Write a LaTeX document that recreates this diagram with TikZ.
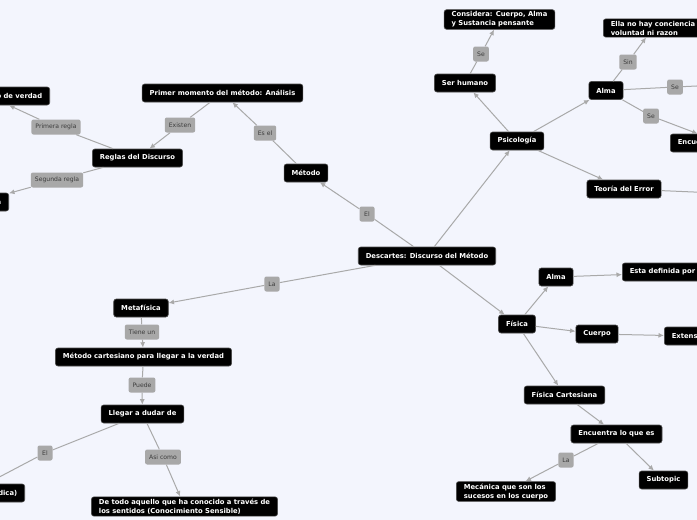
\documentclass[tikz,border=0pt]{standalone}
\usepackage{fontspec}
\setmainfont{DejaVu Sans}
\usetikzlibrary{arrows.meta}
\definecolor{bg}{HTML}{F3F5FD}
\definecolor{edgec}{HTML}{A9A9A9}
\definecolor{lblfill}{HTML}{A8A8A8}
\definecolor{lbltext}{HTML}{3C3C3C}
\tikzset{
  topic/.style={fill=black, draw=black!70, line width=0.6pt, rounded corners=2.5pt,
    text=white, font=\fontsize{6.8}{9}\selectfont\bfseries, inner xsep=7.5pt, inner ysep=2pt,
    minimum height=18pt, align=left},
  lbl/.style={fill=lblfill, rounded corners=2pt, text=lbltext,
    font=\fontsize{6.1}{7}\selectfont, inner xsep=4pt, inner ysep=1pt,
    minimum height=15pt, minimum width=15pt},
  edge/.style={draw=edgec, line width=1pt},
  arr/.style={edge, -{Latex[length=5.5pt,width=5pt]}}
}
\begin{document}
\begin{tikzpicture}[x=1pt,y=-1pt]
\useasboundingbox (0,0) rectangle (697,520);
\fill[bg] (0,0) rectangle (697,520);
\clip (0,0) rectangle (697,520);

% topics
\node[topic] (D) at (427,256) {Descartes: Discurso del Método};
\node[topic] (metodo) at (306,173) {Método};
\node[topic] (primer) at (222.5,93) {Primer momento del método: Análisis};
\node[topic] (reglas) at (137.5,158) {Reglas del Discurso};
\node[topic, anchor=east] (verdad) at (50,96) {Buscar el criterio de verdad};
\node[topic, anchor=east] (evid) at (9,202) {La evidencia};
\node[topic] (metaf) at (141,308) {Metafísica};
\node[topic] (metcart) at (143.5,357) {Método cartesiano para llegar a la verdad};
\node[topic] (llegar) at (142.5,414) {Llegar a dudar de};
\node[topic, anchor=east] (dica) at (25,493) {La duda (Duda Metódica)};
\node[topic] (todo) at (184.5,506.5) {De todo aquello que ha conocido a través de\\los sentidos (Conocimiento Sensible)};
\node[topic] (psico) at (517,141) {Psicología};
\node[topic] (ser) at (465,83) {Ser humano};
\node[topic] (considera) at (499.5,19.5) {Considera: Cuerpo, Alma\\y Sustancia pensante};
\node[topic] (alma1) at (606,90.5) {Alma};
\node[topic, anchor=west] (ella) at (603,28) {Ella no hay conciencia\\voluntad ni razon};
\node[topic, anchor=west] (encu) at (670,143) {Encuentra en el cuerpo};
\node[topic] (teoria) at (624,189) {Teoría del Error};
\node[topic] (fisica) at (517,324) {Física};
\node[topic] (alma2) at (556,277) {Alma};
\node[topic, anchor=west] (esta) at (622,272) {Esta definida por el pensamiento};
\node[topic] (cuerpo) at (597,334) {Cuerpo};
\node[topic, anchor=west] (extens) at (664,336) {Extensión};
\node[topic] (fiscart) at (564.5,395) {Física Cartesiana};
\node[topic] (encuentra) at (616.5,434) {Encuentra lo que es};
\node[topic] (mecanica) at (506,491.5) {Mecánica que son los\\sucesos en los cuerpo};
\node[topic] (subtopic) at (663.5,480) {Subtopic};
\coordinate (offA) at (740,84);
\coordinate (offT) at (740,194);

% labels
\node[lbl] (lEl1) at (367,214) {El};
\node[lbl] (lEsel) at (265,133) {Es el};
\node[lbl] (lExisten) at (180,125) {Existen};
\node[lbl] (lPrimera) at (56,127) {Primera regla};
\node[lbl] (lSegunda) at (57,180) {Segunda regla};
\node[lbl] (lLa1) at (272,284) {La};
\node[lbl] (lTiene) at (142,332) {Tiene un};
\node[lbl] (lPuede) at (142,385) {Puede};
\node[lbl] (lEl2) at (45,453) {El};
\node[lbl] (lAsi) at (163,457) {Asi como};
\node[lbl] (lSe1) at (481,54) {Se};
\node[lbl] (lSin) at (628,62) {Sin};
\node[lbl] (lSe2) at (675,87) {Se};
\node[lbl] (lSe3) at (651,116) {Se};
\node[lbl] (lLa2) at (566,460) {La};

% connectors
\draw[edge] (D) -- (lEl1); \draw[arr] (lEl1) -- (metodo);
\draw[edge] (metodo) -- (lEsel); \draw[arr] (lEsel) -- (primer);
\draw[edge] (primer) -- (lExisten); \draw[arr] (lExisten) -- (reglas);
\draw[edge] (reglas) -- (lPrimera); \draw[arr] (lPrimera) -- (verdad);
\draw[edge] (reglas) -- (lSegunda); \draw[arr] (lSegunda) -- (evid);
\draw[edge] (D) -- (lLa1); \draw[arr] (lLa1) -- (metaf);
\draw[edge] (metaf) -- (lTiene); \draw[arr] (lTiene) -- (metcart);
\draw[edge] (metcart) -- (lPuede); \draw[arr] (lPuede) -- (llegar);
\draw[edge] (llegar) -- (lEl2); \draw[arr] (lEl2) -- (dica);
\draw[edge] (llegar) -- (lAsi); \draw[arr] (lAsi) -- (todo);
\draw[arr] (D) -- (psico);
\draw[arr] (psico) -- (ser);
\draw[edge] (ser) -- (lSe1); \draw[arr] (lSe1) -- (considera);
\draw[arr] (psico) -- (alma1);
\draw[edge] (alma1) -- (lSin); \draw[arr] (lSin) -- (ella);
\draw[edge] (alma1) -- (lSe2); \draw[edge] (lSe2) -- (offA);
\draw[edge] (alma1) -- (lSe3); \draw[arr] (lSe3) -- (encu);
\draw[arr] (psico) -- (teoria);
\draw[edge] (teoria) -- (offT);
\draw[arr] (D) -- (fisica);
\draw[arr] (fisica) -- (alma2);
\draw[arr] (alma2) -- (esta);
\draw[arr] (fisica) -- (cuerpo);
\draw[arr] (cuerpo) -- (extens);
\draw[arr] (fisica) -- (fiscart);
\draw[arr] (fiscart) -- (encuentra);
\draw[edge] (encuentra) -- (lLa2); \draw[arr] (lLa2) -- (mecanica);
\draw[arr] (encuentra) -- (subtopic);
\end{tikzpicture}
\end{document}
